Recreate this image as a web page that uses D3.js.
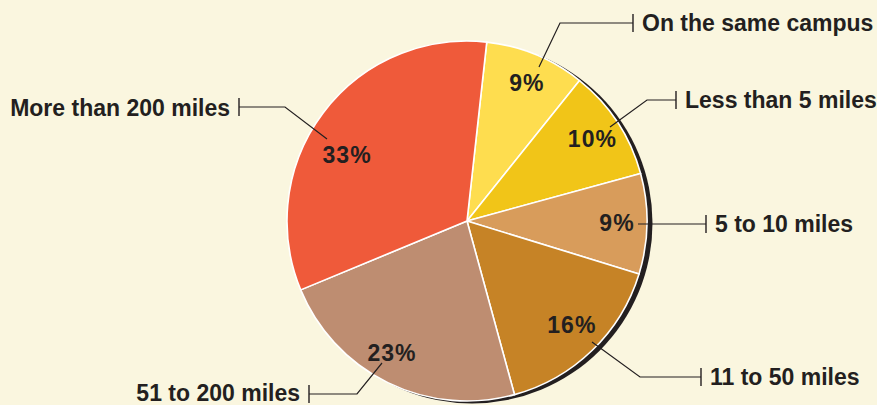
<!DOCTYPE html>
<html>
<head>
<meta charset="utf-8">
<script src="https://cdn.jsdelivr.net/npm/d3@7"></script>
<style>
  html, body { margin: 0; padding: 0; background: #FAF6DF; }
  svg { display: block; }
  text { font-family: "Liberation Sans", Arial, Helvetica, sans-serif; font-weight: bold; fill: #231F20; }
</style>
</head>
<body>
<svg id="chart" width="877" height="405"></svg>
<script>
// ---- data ----
const categories = ["On the same campus", "Less than 5 miles", "5 to 10 miles", "11 to 50 miles", "51 to 200 miles", "More than 200 miles"];
const values = [9, 10, 9, 16, 23, 33];
const colors = ["#FEDD4F", "#F1C518", "#D89C5B", "#C68326", "#BE8D71", "#EF5A3A"];

// ---- layout (annotation geometry, relative to pie centre) ----
const labelAngleAdj = [1, 0, 0, -1, 3.5, -8];     // degrees
const labelRadius   = [150, 150, 150, 148, 152, 137];
const leaders = [
  { start: [72, -154], elbow: [93, -198], tick: 166, side: "right", dy: 8 },
  { start: [143, -94], elbow: [180, -121], tick: 209, side: "right", dy: 8 },
  { start: [171, 3],   elbow: [171, 3],    tick: 239, side: "right", dy: 8 },
  { start: [125, 121], elbow: [173, 156],  tick: 234, side: "right", dy: 8 },
  { start: [-85, 142], elbow: [-110, 173], tick: -158, side: "left", dy: 6.5 },
  { start: [-140, -82], elbow: [-182, -114], tick: -228, side: "left", dy: 8.5 }
];

const W = 877, H = 405;
const cx = 467, cy = 221, R = 180;
const startDeg = 6.3;

const svg = d3.select("#chart");
svg.append("rect").attr("width", W).attr("height", H).attr("fill", "#FAF6DF");

const g = svg.append("g").attr("transform", `translate(${cx},${cy})`);

// shadow
g.append("circle").attr("cx", 5).attr("cy", 2).attr("r", R + 0.5).attr("fill", "#231F20");

const toRad = d => d * Math.PI / 180;
const pie = d3.pie().sort(null).value(d => d)
  .startAngle(toRad(startDeg)).endAngle(toRad(startDeg + 360));
const arcs = pie(values);
const arc = d3.arc().innerRadius(0).outerRadius(R);

g.selectAll("path.slice").data(arcs).enter().append("path")
  .attr("class", "slice")
  .attr("d", arc)
  .attr("fill", (d, i) => colors[i])
  .attr("stroke", "#FFFFFF")
  .attr("stroke-width", 1.6)
  .attr("stroke-linejoin", "round");

// leader lines
const lineColor = "#231F20";
leaders.forEach((l, i) => {
  const y = l.elbow[1];
  g.append("polyline")
    .attr("points", [l.start, l.elbow, [l.tick, y]].map(p => p.join(",")).join(" "))
    .attr("fill", "none").attr("stroke", lineColor).attr("stroke-width", 1.2);
  g.append("line")
    .attr("x1", l.tick).attr("x2", l.tick).attr("y1", y - 9).attr("y2", y + 9)
    .attr("stroke", lineColor).attr("stroke-width", 1.4);
  g.append("text")
    .attr("x", l.side === "right" ? l.tick + 9 : l.tick - 9)
    .attr("y", y + l.dy)
    .attr("text-anchor", l.side === "right" ? "start" : "end")
    .style("font-size", "23px")
    .text(categories[i]);
});

// percent labels
arcs.forEach((d, i) => {
  const mid = (d.startAngle + d.endAngle) / 2 + toRad(labelAngleAdj[i]);
  const r = labelRadius[i];
  const x = r * Math.sin(mid), y = -r * Math.cos(mid);
  g.append("text")
    .attr("x", x).attr("y", y + 8)
    .attr("text-anchor", "middle")
    .style("font-size", "23px")
    .style("letter-spacing", "1px")
    .text(values[i] + "%");
});
</script>
</body>
</html>
